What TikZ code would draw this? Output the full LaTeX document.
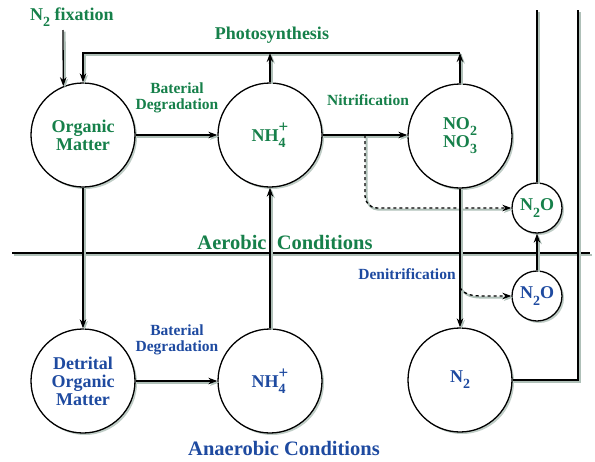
\documentclass[tikz,border=0pt]{standalone}
\usepackage{fontspec}
\setmainfont{Liberation Serif}
\usetikzlibrary{arrows.meta,shadows}
\definecolor{tgreen}{RGB}{22,128,74}
\definecolor{tblue}{RGB}{30,74,160}
\definecolor{shade}{RGB}{175,192,184}
\newcommand\sbs[2]{\raisebox{-.34em}{\fontsize{#1}{#1}\selectfont #2}}
\newcommand\ammon{NH\rlap{\raisebox{-.36em}{\fontsize{14}{14}\selectfont 4}}\raisebox{.5em}{\fontsize{17}{17}\selectfont +}}
\begin{document}
\begin{tikzpicture}[x=1pt,y=-1pt,
  ln/.style={line width=1.3pt,draw=black,
    preaction={draw=shade,line width=2.2pt,transform canvas={shift={(1.6pt,-1.6pt)}}}},
  arr/.style={-{Stealth[length=9pt,width=6.5pt]}},
  bigc/.style={circle,draw=black,line width=1.3pt,fill=white,minimum size=104pt,inner sep=0pt,align=center,
    font=\bfseries\fontsize{18}{18}\selectfont,
    drop shadow={shadow xshift=2pt,shadow yshift=-2pt,fill=shade,opacity=.8}},
  smallc/.style={bigc,minimum size=50pt},
  lbl/.style={font=\bfseries\fontsize{15.5}{16.5}\selectfont,align=center},
  ttl/.style={font=\bfseries\fontsize{20.5}{21}\selectfont},
  hd/.style={font=\bfseries\fontsize{18}{18}\selectfont}
]
\useasboundingbox (0,0) rectangle (595,461);

% divider
\coordinate (divL) at (12,253);
\coordinate (divR) at (590,253);
\draw[ln] (divL) -- (divR);

% nodes
\node[bigc,text=tgreen] (om) at (83,135) {Organic\\Matter};
\node[bigc,text=tgreen] (nh1) at (270,135) {\ammon};
\node[bigc,text=tgreen] (no) at (460,136) {NO\sbs{14}{2}\\[-1pt]NO\sbs{14}{3}};
\node[smallc,text=tgreen] (n2oa) at (537,208) {N\sbs{14}{2}O};
\node[smallc,text=tblue] (n2ob) at (537,296) {N\sbs{14}{2}O};
\node[bigc,text=tblue] (dom) at (83,381) {Detrital\\Organic\\Matter};
\node[bigc,text=tblue] (nh2) at (270,381) {\ammon};
\node[bigc,text=tblue] (n2) at (460,380) {N\sbs{14}{2}};

% labels
\node[hd,text=tgreen] (fixl) at (72,17) {N\sbs{14}{2} fixation};
\node[hd,text=tgreen] (phl) at (272,35) {Photosynthesis};
\node[lbl,text=tgreen] (bd1) at (177,98) {Baterial\\Degradation};
\node[lbl,text=tgreen] (nitl) at (368,100) {Nitrification};
\node[ttl,text=tgreen] (aer) at (285,242) {Aerobic\ \ Conditions};
\node[lbl,text=tblue] (denl) at (407,274) {Denitrification};
\node[lbl,text=tblue] (bd2) at (177,340) {Baterial\\Degradation};
\node[ttl,text=tblue] (anaer) at (284,448) {Anaerobic Conditions};

% coordinates
\coordinate (fixtop) at (63,30);
\coordinate (phL) at (83,53);
\coordinate (phR) at (460,53);
\coordinate (phM) at (270,53);
\coordinate (ds1) at (365,135);
\coordinate (ds2) at (460,288);
\coordinate (topA) at (537,10);
\coordinate (topB) at (578,10);
\coordinate (cornB) at (578,380);

% connectors
\draw[ln,arr] (fixtop) -- (om.112);
\draw[ln,arr] (phR) -- (phL) -- (om.north);
\draw[ln,arr] (nh1.north) -- (phM);
\draw[ln,arr] (no.north) -- (phR);
\draw[ln,arr] (om.east) -- (nh1.west);
\draw[ln,arr] (nh1.east) -- (no.west |- nh1.east);
\draw[ln,arr,dashed,rounded corners=12pt] (ds1) -- (ds1 |- n2oa.west) -- (n2oa.west);
\draw[ln,arr] (no.south) -- (n2.north);
\draw[ln,arr,dashed] (ds2) .. controls (466,296) and (474,296) .. (488,296) -- (n2ob.west);
\draw[ln,arr] (n2ob.north) -- (n2oa.south);
\draw[ln] (n2oa.north) -- (topA);
\draw[ln] (n2.east) -- (cornB) -- (topB);
\draw[ln,arr] (om.south) -- (dom.north);
\draw[ln,arr] (nh2.north) -- (nh1.south);
\draw[ln,arr] (dom.east) -- (nh2.west);
\end{tikzpicture}
\end{document}
